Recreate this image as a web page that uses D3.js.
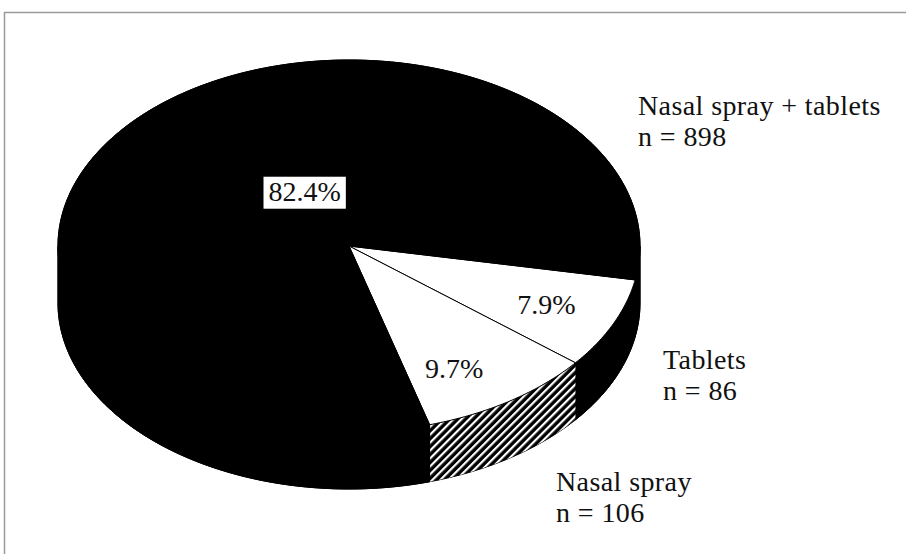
<!DOCTYPE html>
<html>
<head>
<meta charset="utf-8">
<script src="https://cdn.jsdelivr.net/npm/d3@7"></script>
<style>
body { margin: 0; background: #fff; }
text { font-family: "Liberation Serif", "Times New Roman", serif; fill: #111; }
</style>
</head>
<body>
<div class="pie-chart"></div>
<script>
// data
const groups = ["Tablets", "Nasal spray", "Nasal spray + tablets"];
const counts = [86, 106, 898];

const width = 906;
const height = 554;
const svg = d3.select('.pie-chart')
    .append('svg')
    .attr('width', width)
    .attr('height', height);

// grey frame, only top and left edges show
svg.append('path')
    .attr('d', `M4.5,${height} V12.5 H${width}`)
    .attr('fill', 'none')
    .attr('stroke', '#9a9a9a')
    .attr('stroke-width', 1.5);

// hatch for the nasal spray side wall
const pat = svg.append('defs').append('pattern')
    .attr('id', 'hatch')
    .attr('patternUnits', 'userSpaceOnUse')
    .attr('width', 5.6)
    .attr('height', 5.6)
    .attr('patternTransform', 'rotate(45)');
pat.append('rect').attr('width', 5.6).attr('height', 5.6).attr('fill', '#000');
pat.append('rect').attr('width', 2.2).attr('height', 5.6).attr('fill', '#fff');

const cx = 349, cy = 246, rx = 291, ry = 186, depth = 57;
const start = Math.PI / 2 + 10.5 * Math.PI / 180;

const pie = d3.pie()
    .sort(null)
    .value(d => d)
    .startAngle(start)
    .endAngle(start + 2 * Math.PI);
const arcs = pie(counts);
const total = d3.sum(counts);

function pt(phi, dy) {
    return [cx + rx * Math.cos(phi), cy + ry * Math.sin(phi) + dy];
}
function arcPoints(p0, p1, dy) {
    const n = Math.max(2, Math.ceil(Math.abs(p1 - p0) / 0.01));
    return d3.range(n + 1).map(i => pt(p0 + (p1 - p0) * i / n, dy));
}
const line = d3.line();

function topPath(d) {
    const p0 = d.startAngle - Math.PI / 2, p1 = d.endAngle - Math.PI / 2;
    return line([[cx, cy]].concat(arcPoints(p0, p1, 0))) + 'Z';
}
function sidePaths(d) {
    const p0 = d.startAngle - Math.PI / 2, p1 = d.endAngle - Math.PI / 2;
    const out = [];
    [[0, Math.PI], [2 * Math.PI, 3 * Math.PI]].forEach(([lo, hi]) => {
        const a = Math.max(p0, lo), b = Math.min(p1, hi);
        if (b > a) {
            out.push(line(arcPoints(a, b, 0).concat(arcPoints(b, a, depth))) + 'Z');
        }
    });
    return out;
}

// black silhouette underneath so the seams between pieces don't show
svg.append('path')
    .attr('d', line(arcPoints(Math.PI, 2 * Math.PI, 0).concat(arcPoints(0, Math.PI, depth))) + 'Z')
    .attr('fill', '#000')
    .attr('stroke', '#000')
    .attr('stroke-width', 1);

const topFill = ['#fff', '#fff', '#000'];
const sideFill = ['#000', 'url(#hatch)', '#000'];

// side walls
arcs.forEach((d, i) => {
    svg.selectAll(null)
        .data(sidePaths(d))
        .enter()
        .append('path')
        .attr('d', p => p)
        .attr('fill', sideFill[i])
        .attr('stroke', sideFill[i] === '#000' ? '#000' : 'none');
});

svg.selectAll('path.top')
    .data(arcs)
    .enter()
    .append('path')
    .attr('class', 'top')
    .attr('d', topPath)
    .attr('fill', (d, i) => topFill[i])
    .attr('stroke', '#000')
    .attr('stroke-width', 1);

// percentage labels
const labelR = [0.747, 0.749, 0.333];
const labelShift = [0, 0.083, 0.359];
const fmt = d3.format('.1f');

arcs.forEach((d, i) => {
    const phi = (d.startAngle + d.endAngle) / 2 - Math.PI / 2 + labelShift[i];
    const x = cx + labelR[i] * rx * Math.cos(phi);
    const y = cy + labelR[i] * ry * Math.sin(phi);
    const g = svg.append('g');
    const t = g.append('text')
        .attr('x', x)
        .attr('y', y)
        .attr('dy', '0.35em')
        .attr('text-anchor', 'middle')
        .attr('font-size', 28)
        .text(fmt(d.value / total * 100) + '%');
    if (topFill[i] === '#000') {
        const b = t.node().getBBox();
        g.insert('rect', 'text')
            .attr('x', b.x - 5)
            .attr('y', b.y + 1)
            .attr('width', b.width + 10)
            .attr('height', b.height + 1)
            .attr('fill', '#fff');
    }
});

// category labels
const nameX = [663, 556, 638];
const nameY = [369, 491, 115];
groups.forEach((name, i) => {
    const t = svg.append('text')
        .attr('x', nameX[i])
        .attr('y', nameY[i])
        .attr('font-size', 28)
        .attr('letter-spacing', 0.4);
    t.append('tspan').attr('x', nameX[i]).text(name);
    t.append('tspan').attr('x', nameX[i]).attr('dy', 31).text('n = ' + counts[i]);
});
</script>
</body>
</html>
